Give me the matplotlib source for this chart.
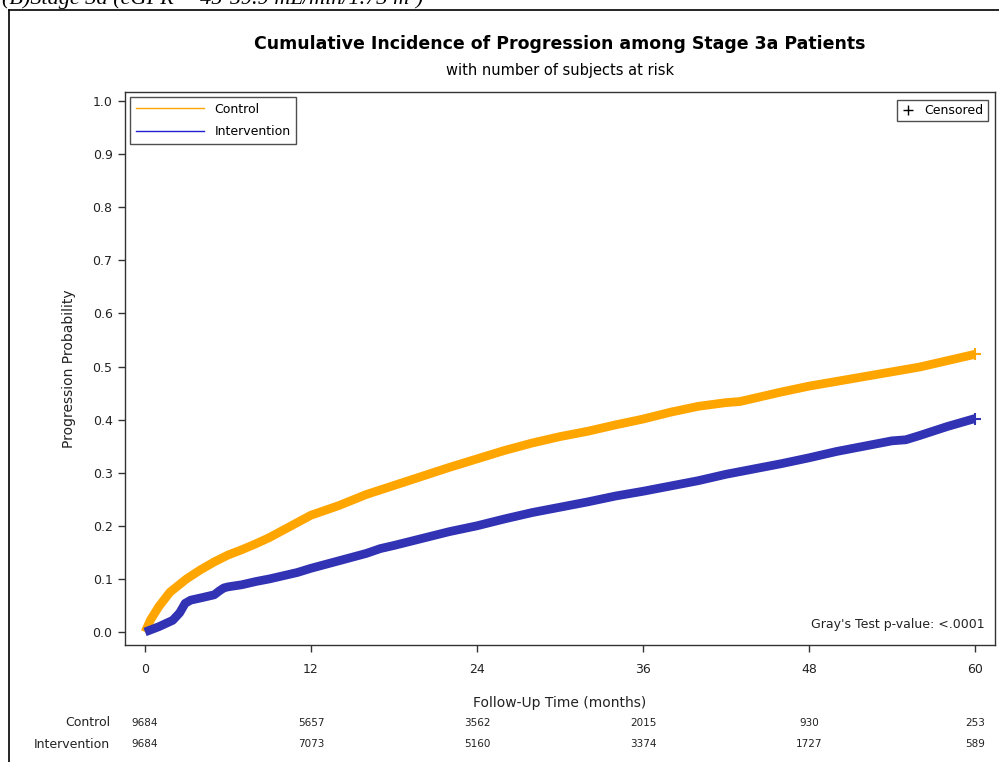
import matplotlib.pyplot as plt
from matplotlib.lines import Line2D

# cumulative incidence (months, probability)
control_t = [0, 0.4, 1, 1.8, 3, 4, 5, 6, 7, 8, 9, 10, 11, 12, 14, 16, 18, 20, 22, 24, 26, 28,
             30, 32, 34, 36, 38, 40, 42, 43, 44, 46, 48, 50, 52, 54, 56, 58, 60]
control_p = [0, 0.023, 0.048, 0.075, 0.100, 0.117, 0.132, 0.145, 0.155, 0.166, 0.178, 0.192,
             0.206, 0.220, 0.238, 0.259, 0.276, 0.293, 0.310, 0.326, 0.342, 0.356, 0.368,
             0.378, 0.390, 0.401, 0.414, 0.425, 0.432, 0.434, 0.440, 0.452, 0.463, 0.472,
             0.481, 0.490, 0.499, 0.511, 0.523]

interv_t = [0, 1, 2, 2.5, 2.9, 3.3, 4, 5, 5.4, 5.7, 6, 7, 8, 9, 10, 11, 12, 13, 14, 15, 16, 17,
            18, 20, 22, 24, 26, 28, 30, 32, 34, 36, 38, 40, 42, 44, 46, 48, 50, 52, 54, 55,
            56, 58, 60]
interv_p = [0, 0.010, 0.022, 0.036, 0.054, 0.060, 0.064, 0.070, 0.078, 0.083, 0.085, 0.089,
            0.095, 0.100, 0.106, 0.112, 0.120, 0.127, 0.134, 0.141, 0.148, 0.157, 0.163,
            0.176, 0.189, 0.200, 0.213, 0.225, 0.235, 0.245, 0.256, 0.265, 0.275, 0.285,
            0.297, 0.307, 0.317, 0.328, 0.340, 0.350, 0.360, 0.362, 0.370, 0.387, 0.402]

groups = ['Control', 'Intervention']
risk_times = [0, 12, 24, 36, 48, 60]
control_risk = [9684, 5657, 3562, 2015, 930, 253]
interv_risk = [9684, 7073, 5160, 3374, 1727, 589]

orange = '#FFA500'
blue = '#3232B4'
W, H = 999, 762

fig = plt.figure(figsize=(9.99, 7.62), dpi=100)
ax = fig.add_axes([125 / W, 1 - 645 / H, 870 / W, 553 / H])

ax.plot(control_t, control_p, color=orange, lw=6.3, solid_capstyle='butt')
ax.plot(interv_t, interv_p, color=blue, lw=6.3, solid_capstyle='butt')
ax.plot(control_t[-1], control_p[-1], '+', color=orange, ms=8, mew=1.5)
ax.plot(interv_t[-1], interv_p[-1], '+', color=blue, ms=8, mew=1.5)

ax.set_xlim(-1.45, 61.45)
ax.set_ylim(-0.0245, 1.017)
ax.set_xticks(risk_times)
ax.set_yticks([i / 10 for i in range(11)])
ax.set_yticklabels([f"{i / 10:.1f}" for i in range(11)])
ax.tick_params(direction='out', length=5, width=1, labelsize=9, colors='#333333',
               labelcolor='#222222', pad=4)
ax.tick_params(axis='x', pad=8)
for s in ax.spines.values():
    s.set_linewidth(1)
    s.set_color('#333333')

ax.set_ylabel('Progression Probability', fontsize=10, color='#222222', labelpad=12)
ax.set_xlabel('Follow-Up Time (months)', fontsize=10, color='#222222', labelpad=14)

leg1 = ax.legend([Line2D([], [], color='orange', lw=1), Line2D([], [], color='#2020D0', lw=1)],
                 groups, loc='upper left', fontsize=9, frameon=True, fancybox=False,
                 handlelength=5.5, borderaxespad=0.4, borderpad=0.45, labelspacing=0.75)
leg1.get_frame().set_edgecolor('#222222')
leg1.get_frame().set_linewidth(1)
ax.add_artist(leg1)
leg2 = ax.legend([Line2D([], [], color='black', marker='+', ls='none', ms=7)], ['Censored'],
                 loc='upper right', fontsize=9, frameon=True, fancybox=False,
                 handlelength=1, borderaxespad=0.6, borderpad=0.35)
leg2.get_frame().set_edgecolor('#222222')
leg2.get_frame().set_linewidth(1)

ax.text(0.988, 0.025, "Gray's Test p-value: <.0001", transform=ax.transAxes,
        ha='right', va='bottom', fontsize=9, color='#222222')

fig.text(560 / W, 1 - 44 / H, 'Cumulative Incidence of Progression among Stage 3a Patients',
         ha='center', va='center', fontsize=12.5, fontweight='bold')
fig.text(560 / W, 1 - 71 / H, 'with number of subjects at risk', ha='center', va='center',
         fontsize=10.5)

# number at risk table
for label, counts, y in [(groups[0], control_risk, 723), (groups[1], interv_risk, 744)]:
    fig.text(110 / W, 1 - y / H, label, ha='right', va='center', fontsize=9, color='#222222')
    for t, n in zip(risk_times, counts):
        x = ax.transData.transform((t, 0))[0] / fig.dpi / fig.get_figwidth()
        fig.text(x, 1 - y / H, str(n), ha='center', va='center', fontsize=7.5, color='#222222')

# outer frame and the clipped caption above it
fig.add_artist(Line2D([8.5 / W, 8.5 / W], [0, 1 - 9.5 / H], color='black', lw=1.2))
fig.add_artist(Line2D([8.5 / W, 1], [1 - 9.5 / H, 1 - 9.5 / H], color='black', lw=1.2))
fig.text(2 / W, 1 - 4 / H, '(B)Stage 3a (eGFR = 45-59.9 mL/min/1.73 m\u00b2)', ha='left',
         va='baseline', fontsize=16, family='Liberation Serif', style='italic')

fig.savefig('out.png', dpi=100)
